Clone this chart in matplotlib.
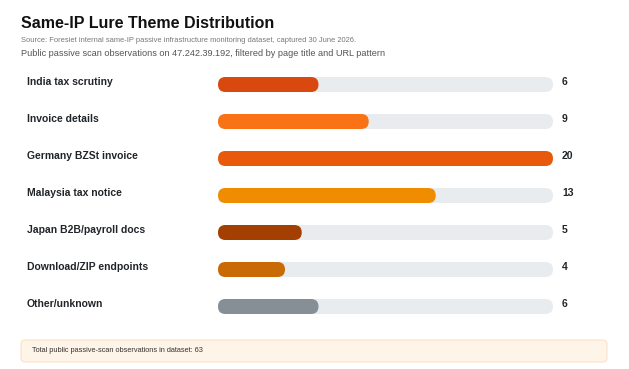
import matplotlib
matplotlib.use("Agg")
import matplotlib.pyplot as plt
from matplotlib.patches import FancyBboxPatch

plt.rcParams["font.family"] = ["Liberation Sans", "DejaVu Sans"]

# data
themes = ["India tax scrutiny", "Invoice details", "Germany BZSt invoice",
          "Malaysia tax notice", "Japan B2B/payroll docs", "Download/ZIP endpoints",
          "Other/unknown"]
counts = [6, 9, 20, 13, 5, 4, 6]
colors = ["#D9480F", "#F97316", "#E8590C", "#F08C00", "#A33F00", "#C96A04", "#868E96"]
total_obs = 63
scale_max = max(counts)

W, H = 629, 369
fig = plt.figure(figsize=(W / 100, H / 100), dpi=100)
fig.patch.set_facecolor("white")

# bar area: x 218..553 px, rows centered 84..306 px, 37 px apart
ax = fig.add_axes([218 / W, (H - 325) / H, 335 / W, 259 / H])
ax.set_xlim(0, scale_max)
ax.set_ylim(len(themes) - 0.5, -0.5)
ax.axis("off")

px_x = 335 / scale_max        # px per data unit along x
px_y = 37.0                   # px per row
rad_px = 7.5
r = rad_px / px_x
aspect = (rad_px / px_y) / r
bh = 15 / px_y

for i, (name, v, c) in enumerate(zip(themes, counts, colors)):
    track = FancyBboxPatch((0, i - bh / 2), scale_max, bh,
                           boxstyle=f"round,pad=0,rounding_size={r}",
                           mutation_aspect=aspect, fc="#E9ECEF", ec="none")
    ax.add_patch(track)
    bar = FancyBboxPatch((0, i - bh / 2), v, bh,
                         boxstyle=f"round,pad=0,rounding_size={r}",
                         mutation_aspect=aspect, fc=c, ec="none")
    ax.add_patch(bar)
    ax.text(-191 / 335, i - 0.07, name, transform=ax.get_yaxis_transform(),
            ha="left", va="center", fontsize=7.5, fontweight="bold", color="#212529")
    ax.text(1 + 9 / 335, i - 0.07, str(v), transform=ax.get_yaxis_transform(),
            ha="left", va="center", fontsize=7.5, fontweight="bold", color="#212529")

fig.text(21 / W, 1 - 23.5 / H, "Same-IP Lure Theme Distribution", ha="left", va="center",
         fontsize=11.5, fontweight="bold", color="#111111")
fig.text(21 / W, 1 - 40 / H,
         "Source: Foresiet internal same-IP passive infrastructure monitoring dataset, captured 30 June 2026.",
         ha="left", va="center", fontsize=5.4, color="#777777")
fig.text(21 / W, 1 - 53 / H,
         "Public passive scan observations on 47.242.39.192, filtered by page title and URL pattern",
         ha="left", va="center", fontsize=6.6, color="#555555")

# footer note
box = FancyBboxPatch((21 / W, 1 - 362 / H), 586 / W, 22 / H,
                     boxstyle=f"round,pad=0,rounding_size={4 / W}",
                     mutation_aspect=W / H, transform=fig.transFigure,
                     fc="#FFF4E8", ec="#FBE3C8", lw=0.8)
fig.patches.append(box)
fig.text(32 / W, 1 - 351 / H, f"Total public passive-scan observations in dataset: {total_obs}",
         ha="left", va="center", fontsize=5.3, color="#333333")

fig.savefig("out.png", dpi=100, facecolor="white")
